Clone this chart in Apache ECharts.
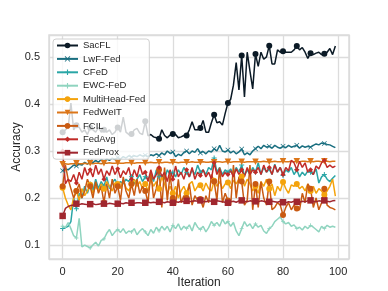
<!DOCTYPE html>
<html><head><meta charset="utf-8">
<script src="https://cdn.jsdelivr.net/npm/echarts@6/dist/echarts.min.js"></script>
<style>html,body{margin:0;padding:0;background:#fff;}#c{width:388px;height:291px;}</style>
</head><body><div id="c"></div>
<script>
const iterations = Array.from({length: 100}, (_, i) => i);
const seriesNames = ['SacFL','LwF-Fed','CFeD','EWC-FeD','MultiHead-Fed','FedWeIT','FCIL','FedAvg','FedProx'];

const sacfl = [
0.34,0.345,0.35,0.402,0.345,0.355,0.35,0.34,0.345,0.335,
0.35,0.345,0.34,0.35,0.34,0.345,0.34,0.345,0.335,0.34,
0.35,0.34,0.372,0.34,0.335,0.336,0.345,0.348,0.338,0.335,
0.363,0.332,0.335,0.33,0.328,0.326,0.345,0.333,0.328,0.334,
0.336,0.335,0.328,0.33,0.333,0.333,0.345,0.362,0.345,0.345,
0.349,0.365,0.34,0.34,0.36,0.377,0.36,0.362,0.355,0.38,
0.402,0.41,0.44,0.488,0.43,0.503,0.415,0.51,0.47,0.432,
0.506,0.48,0.51,0.495,0.5,0.524,0.485,0.485,0.515,0.51,
0.512,0.51,0.51,0.51,0.515,0.523,0.515,0.52,0.51,0.497,
0.508,0.505,0.508,0.51,0.505,0.507,0.51,0.518,0.505,0.523];

const lwf = [
0.258,0.262,0.26,0.265,0.27,0.268,0.272,0.27,0.276,0.272,
0.278,0.275,0.28,0.276,0.282,0.278,0.283,0.28,0.285,0.282,
0.286,0.283,0.288,0.285,0.29,0.287,0.29,0.288,0.292,0.289,
0.291,0.288,0.292,0.29,0.294,0.29,0.296,0.292,0.3,0.295,
0.298,0.288,0.293,0.29,0.297,0.3,0.294,0.3,0.297,0.305,
0.296,0.299,0.294,0.3,0.298,0.305,0.3,0.312,0.3,0.298,
0.302,0.296,0.3,0.294,0.298,0.304,0.292,0.296,0.292,0.3,
0.305,0.31,0.305,0.312,0.308,0.31,0.306,0.312,0.308,0.306,
0.31,0.307,0.312,0.308,0.31,0.312,0.306,0.311,0.308,0.31,
0.308,0.312,0.315,0.313,0.317,0.316,0.314,0.313,0.31,0.307];

const cfed = [
0.135,0.137,0.14,0.15,0.2,0.177,0.21,0.2,0.225,0.21,
0.23,0.215,0.24,0.22,0.235,0.225,0.245,0.22,0.232,0.24,
0.228,0.235,0.23,0.24,0.235,0.245,0.23,0.24,0.25,0.235,
0.245,0.24,0.25,0.235,0.26,0.245,0.25,0.24,0.26,0.25,
0.255,0.245,0.26,0.25,0.265,0.255,0.245,0.26,0.25,0.27,
0.255,0.26,0.25,0.265,0.26,0.285,0.255,0.265,0.25,0.26,
0.255,0.262,0.25,0.265,0.255,0.27,0.248,0.26,0.25,0.265,
0.255,0.275,0.25,0.265,0.255,0.262,0.25,0.272,0.255,0.265,
0.248,0.26,0.255,0.265,0.25,0.26,0.245,0.255,0.248,0.258,
0.255,0.25,0.262,0.232,0.245,0.25,0.24,0.235,0.242,0.248];

const ewc = [
0.14,0.137,0.148,0.135,0.12,0.115,0.157,0.096,0.1,0.097,
0.094,0.1,0.106,0.098,0.11,0.113,0.125,0.133,0.12,0.128,
0.133,0.127,0.135,0.125,0.13,0.128,0.135,0.122,0.13,0.135,
0.128,0.12,0.133,0.125,0.138,0.13,0.14,0.132,0.14,0.128,
0.142,0.135,0.145,0.132,0.14,0.135,0.143,0.13,0.148,0.138,
0.133,0.14,0.128,0.137,0.15,0.142,0.148,0.14,0.155,0.145,
0.15,0.14,0.148,0.13,0.12,0.135,0.15,0.14,0.145,0.135,
0.145,0.138,0.142,0.13,0.125,0.135,0.14,0.15,0.155,0.16,
0.15,0.145,0.148,0.14,0.143,0.135,0.138,0.132,0.14,0.135,
0.142,0.138,0.133,0.128,0.14,0.135,0.142,0.138,0.14,0.138];

const multihead = [
0.222,0.2,0.185,0.175,0.2,0.215,0.195,0.22,0.205,0.215,
0.228,0.21,0.225,0.215,0.23,0.22,0.235,0.225,0.215,0.232,
0.23,0.22,0.238,0.222,0.215,0.23,0.24,0.225,0.235,0.22,
0.23,0.215,0.24,0.225,0.235,0.22,0.245,0.23,0.21,0.225,
0.21,0.225,0.2,0.215,0.225,0.21,0.23,0.235,0.215,0.225,
0.227,0.215,0.232,0.22,0.215,0.237,0.225,0.235,0.22,0.23,
0.233,0.22,0.238,0.23,0.24,0.246,0.225,0.24,0.23,0.215,
0.225,0.21,0.235,0.225,0.24,0.22,0.23,0.205,0.225,0.215,
0.234,0.22,0.21,0.228,0.225,0.23,0.22,0.225,0.215,0.23,
0.215,0.225,0.21,0.22,0.215,0.207,0.215,0.225,0.24,0.204];

const fedweit = [
0.272,0.273,0.272,0.273,0.273,0.274,0.273,0.273,0.274,0.273,
0.274,0.273,0.274,0.274,0.273,0.274,0.274,0.275,0.274,0.274,
0.275,0.274,0.274,0.275,0.275,0.275,0.274,0.275,0.275,0.275,
0.275,0.275,0.276,0.275,0.275,0.276,0.275,0.276,0.276,0.275,
0.276,0.276,0.275,0.276,0.276,0.276,0.276,0.277,0.276,0.276,
0.276,0.277,0.276,0.276,0.277,0.276,0.277,0.277,0.276,0.277,
0.277,0.276,0.277,0.277,0.277,0.277,0.276,0.277,0.277,0.277,
0.277,0.277,0.277,0.278,0.277,0.277,0.277,0.278,0.277,0.277,
0.278,0.277,0.277,0.278,0.277,0.278,0.277,0.278,0.278,0.277,
0.278,0.277,0.278,0.278,0.277,0.278,0.278,0.277,0.278,0.278];

const fcil = [
0.225,0.27,0.24,0.22,0.2,0.215,0.23,0.2,0.215,0.24,
0.225,0.2,0.235,0.21,0.225,0.19,0.23,0.2,0.24,0.21,
0.225,0.195,0.245,0.215,0.2,0.23,0.205,0.24,0.21,0.225,
0.215,0.19,0.255,0.2,0.22,0.26,0.18,0.265,0.195,0.25,
0.2,0.185,0.24,0.19,0.205,0.2,0.23,0.185,0.205,0.195,
0.198,0.18,0.205,0.19,0.25,0.235,0.195,0.265,0.19,0.21,
0.195,0.185,0.27,0.2,0.245,0.235,0.185,0.195,0.27,0.175,
0.23,0.18,0.235,0.2,0.185,0.235,0.175,0.18,0.19,0.185,
0.164,0.18,0.19,0.175,0.185,0.178,0.175,0.21,0.19,0.23,
0.22,0.18,0.2,0.175,0.19,0.22,0.185,0.18,0.178,0.175];

const fedavg = [
0.3,0.23,0.24,0.235,0.25,0.232,0.255,0.24,0.265,0.248,
0.26,0.245,0.27,0.25,0.262,0.24,0.258,0.248,0.268,0.25,
0.262,0.243,0.258,0.25,0.265,0.24,0.26,0.245,0.27,0.25,
0.255,0.235,0.26,0.24,0.25,0.265,0.245,0.255,0.235,0.26,
0.24,0.268,0.245,0.255,0.24,0.26,0.245,0.265,0.24,0.255,
0.248,0.26,0.245,0.255,0.24,0.275,0.25,0.262,0.245,0.255,
0.25,0.258,0.245,0.262,0.25,0.26,0.245,0.265,0.25,0.26,
0.255,0.265,0.25,0.27,0.255,0.265,0.25,0.27,0.255,0.265,
0.25,0.265,0.258,0.28,0.275,0.26,0.278,0.265,0.275,0.255,
0.26,0.25,0.268,0.262,0.275,0.28,0.265,0.27,0.265,0.268];

const fedprox = [
0.162,0.178,0.182,0.184,0.185,0.188,0.186,0.188,0.187,0.186,
0.187,0.188,0.186,0.187,0.188,0.188,0.187,0.189,0.188,0.187,
0.188,0.189,0.188,0.19,0.189,0.19,0.189,0.19,0.19,0.189,
0.19,0.191,0.19,0.191,0.19,0.192,0.191,0.19,0.192,0.191,
0.19,0.192,0.191,0.193,0.192,0.194,0.192,0.193,0.194,0.193,
0.195,0.193,0.192,0.194,0.193,0.192,0.194,0.193,0.192,0.191,
0.19,0.192,0.193,0.191,0.194,0.195,0.193,0.192,0.194,0.193,
0.193,0.192,0.194,0.193,0.191,0.192,0.193,0.192,0.191,0.193,
0.191,0.19,0.192,0.191,0.193,0.192,0.191,0.193,0.192,0.194,
0.195,0.193,0.192,0.194,0.193,0.195,0.193,0.192,0.194,0.195];

const allValues = [sacfl, lwf, cfed, ewc, multihead, fedweit, fcil, fedavg, fedprox];
const colors = ['#0b1a26','#1a6f80','#2aa6a6','#8fd4bf','#f4a30c','#dc7619','#c95a12','#c12b28','#a0262e'];
const X_PATH = 'path://M0,1 L1,0 L5,4 L9,0 L10,1 L6,5 L10,9 L9,10 L5,6 L1,10 L0,9 L4,5 Z';
const PLUS_PATH = 'path://M4,0 H6 V4 H10 V6 H6 V10 H4 V6 H0 V4 H4 Z';
const symbols = ['circle', X_PATH, PLUS_PATH, PLUS_PATH, 'circle', 'triangle', 'circle', 'diamond', 'rect'];
const rotates = [0,0,0,0,0,180,0,0,0];
const sizes = [6,5,5,4,6,6.5,6,5,6.5];

const series = seriesNames.map((name, k) => ({
  name: name,
  type: 'line',
  data: iterations.map((it, i) => [it, allValues[k][i]]),
  symbol: symbols[k],
  symbolRotate: rotates[k],
  showAllSymbol: true,
  symbolSize: (v, p) => (p.dataIndex % 5 === 0 ? sizes[k] : 0),
  lineStyle: { width: 1.5, color: colors[k] },
  itemStyle: { color: colors[k] },
  emphasis: { disabled: true },
  animation: false
}));

const chart = echarts.init(document.getElementById('c'), null, { renderer: 'canvas' });
chart.setOption({
  animation: false,
  backgroundColor: '#fff',
  textStyle: { fontFamily: 'Liberation Sans, Arial, sans-serif' },
  grid: { left: 49, right: 39, top: 35, bottom: 32, outerBoundsMode: 'none', containLabel: false,
    show: true, borderColor: '#dcdcdc', borderWidth: 1.5, backgroundColor: 'transparent' },
  legend: {
    orient: 'vertical',
    left: 53, top: 39,
    padding: [1, 4, 1, 3],
    itemWidth: 21, itemHeight: 7, itemGap: 2.4,
    backgroundColor: 'rgba(255,255,255,0.8)',
    borderColor: '#d0d0d0', borderWidth: 1, borderRadius: 3,
    textStyle: { fontSize: 9.5, color: '#262626', lineHeight: 11, fontFamily: 'Liberation Sans, Arial, sans-serif' },
    data: seriesNames
  },
  xAxis: {
    type: 'value', min: -4.95, max: 103.95, splitNumber: 5,
    name: 'Iteration', nameLocation: 'middle', nameGap: 18, nameMoveOverlap: false,
    nameTextStyle: { fontSize: 12, color: '#262626' },
    axisLine: { show: false }, axisTick: { show: false },
    axisLabel: { fontSize: 11, color: '#262626', margin: 7, showMinLabel: false, showMaxLabel: false },
    splitLine: { show: true, lineStyle: { color: '#dcdcdc', width: 1.3 } }
  },
  yAxis: {
    type: 'value', min: 0.0704, max: 0.5466, splitNumber: 5,
    name: 'Accuracy', nameLocation: 'middle', nameGap: 26, nameMoveOverlap: false,
    nameTextStyle: { fontSize: 12, color: '#262626' },
    axisLine: { show: false }, axisTick: { show: false },
    axisLabel: { fontSize: 11, color: '#262626', margin: 9, showMinLabel: false, showMaxLabel: false,
      formatter: v => v.toFixed(1) },
    splitLine: { show: true, lineStyle: { color: '#dcdcdc', width: 1.3 } }
  },
  series: series
});
</script>
</body></html>
